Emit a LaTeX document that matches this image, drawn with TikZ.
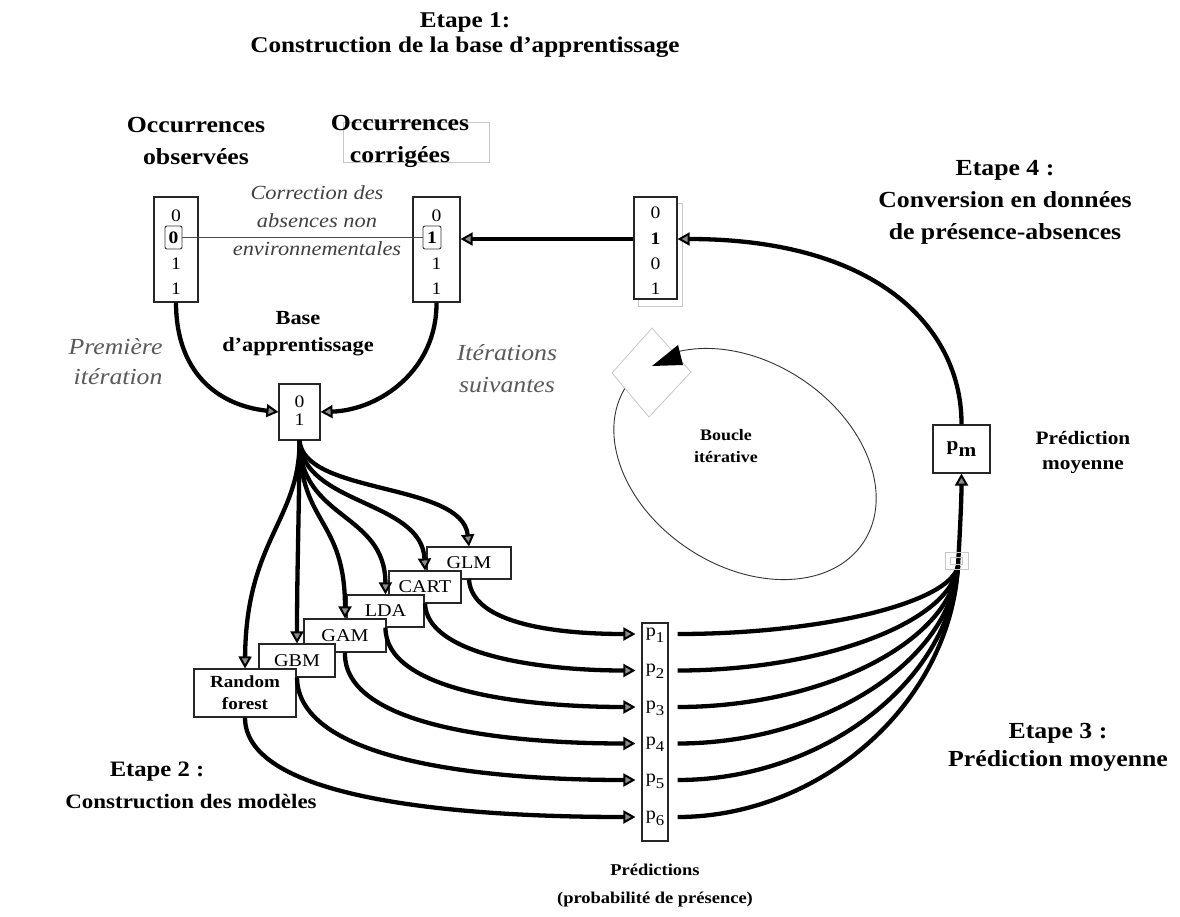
\documentclass[tikz,border=0pt]{standalone}
\usepackage{fontspec}
\setmainfont{Liberation Serif}[FakeStretch=1.12]
\usetikzlibrary{arrows.meta,calc}
\newcommand{\fsz}[2]{\fontsize{#1pt}{#2pt}\selectfont}
\newcommand{\lowsub}[1]{\raisebox{-0.32em}{\fsz{15}{15}#1}}
\begin{document}
\begin{tikzpicture}[x=1pt,y=-1pt,
  box/.style={draw=black!85, line width=1.1pt, fill=white, inner sep=0pt},
  digit/.style={inner sep=0pt, font=\fsz{17.5}{20}},
  mbox/.style={box, font=\fsz{18}{22}},
  label/.style={align=center, font=\bfseries\fsz{23}{32}},
  note/.style={align=center, font=\itshape\fsz{20}{28}, text=black!75},
  bigtip/.style={-{Triangle[length=12pt,width=13pt,line width=2pt,fill=black!45]}},
  flow/.style={line width=4.3pt, draw=black, bigtip},
  link/.style={line width=4.3pt, draw=black},
  faint/.style={draw=black!22, line width=0.8pt}
]
\useasboundingbox (0,0) rectangle (1180,916);

% ---------- titles ----------
\node[align=center, font=\bfseries\fsz{22.5}{25}] (t1) at (465,35)
  {Etape 1:\\Construction de la base d’apprentissage};
\node[label] (lobs) at (196,141) {Occurrences\\observées};
\draw[faint] (343,122) rectangle (489,162);
\node[label] (lcor) at (400,141) {Occurrences\\corrigées};
\node[label] (t4) at (1005,202) {Etape 4 :\\Conversion en données\\de présence-absences};
\node[label, font=\bfseries\fsz{23}{28}] (t3) at (1058,747) {Etape 3 :\\Prédiction moyenne};
\node[font=\bfseries\fsz{22}{27}] (t2a) at (157,772) {Etape 2 :};
\node[font=\bfseries\fsz{20.5}{27}] (t2b) at (191,801) {Construction des modèles};

% ---------- iterative loop ----------
\draw[black!80, line width=0.9pt, rotate around={-33.4:(745,464)}]
  (745,464) ellipse [x radius=142, y radius=102];
\draw[faint, fill=white] (652,328) -- (691,372) -- (649,417) -- (612,373) -- cycle;
\fill[black] (652,366) -- (678,345) -- (683,365) -- cycle;
\node[align=center, font=\bfseries\fsz{16}{22}] (loop) at (726,446) {Boucle\\itérative};

% ---------- occurrence columns ----------
\node[box, minimum width=44, minimum height=105] (obs) at (176,249.5) {};
\node[digit] (o1) at (176,216) {0};
\node[digit, draw=black!80, line width=0.9pt, rounded corners=2pt,
      minimum width=17, minimum height=23, font=\bfseries\fsz{17.5}{20}] (o2) at (173.5,237.5) {0};
\node[digit] (o3) at (176,264) {1};
\node[digit] (o4) at (176,289) {1};

\node[box, minimum width=47, minimum height=105] (cor) at (436.5,249.5) {};
\node[digit] (c1) at (436.5,216) {0};
\node[digit, draw=black!80, line width=0.9pt, rounded corners=2pt,
      minimum width=18, minimum height=23, font=\bfseries\fsz{17.5}{20}] (c2) at (432,237.5) {1};
\node[digit] (c3) at (436.5,264) {1};
\node[digit] (c4) at (436.5,289) {1};

\draw[black!70, line width=0.9pt] (o2.east) -- (c2.west);
\node[note] (corr) at (317,221) {Correction des\\absences non\\environnementales};

\draw[faint] (638,203) rectangle (682,306);
\node[box, minimum width=43, minimum height=102] (mid) at (655.5,248) {};
\node[digit] (m1) at (655.5,213) {0};
\node[digit, font=\bfseries\fsz{17.5}{20}] (m2) at (655.5,239) {1};
\node[digit] (m3) at (655.5,264) {0};
\node[digit] (m4) at (655.5,289) {1};

\draw[flow] (mid.west |- m2) -- (cor.east |- m2);

% ---------- training base ----------
\node[box, minimum width=41, minimum height=56] (base) at (299.5,412) {};
\node[digit] (b1) at (299.5,402) {0};
\node[digit] (b2) at (299.5,420) {1};
\node[align=center, font=\bfseries\fsz{20}{27}] (lbase) at (298,334) {Base\\d’apprentissage};

\draw[flow] (obs.south) .. controls (176,370) and (215,405) .. (base.west);
\draw[flow] (cor.south) .. controls (437,370) and (380,410) .. (base.east);
\node[anchor=east, align=right, font=\itshape\fsz{23}{30}, text=black!65] (first) at (166,362)
  {Première\\itération};
\node[align=center, font=\itshape\fsz{23}{32}, text=black!65] (next) at (507,369)
  {Itérations\\suivantes};

% ---------- models ----------
\node[mbox, minimum width=84, minimum height=32] (glm) at (469,563) {GLM};
\node[mbox, minimum width=72, minimum height=32] (cart) at (425,587) {CART};
\node[mbox, minimum width=77, minimum height=32] (lda) at (385.5,611) {LDA};
\node[mbox, minimum width=82, minimum height=33] (gam) at (345,635.5) {GAM};
\node[mbox, minimum width=76, minimum height=33] (gbm) at (297,660.5) {GBM};
\node[mbox, minimum width=102, minimum height=48, align=center,
      font=\bfseries\fsz{17}{22}] (rf) at (245,693) {Random\\forest};

\draw[flow] (base.south) .. controls (304,495) and (462,482) .. (glm.north);
\draw[flow] (base.south) .. controls (302,505) and (422,500) .. (cart.north);
\draw[flow] (base.south) .. controls (300,520) and (385,512) .. (lda.north);
\draw[flow] (base.south) .. controls (300,525) and (345,518) .. (gam.north);
\draw[flow] (base.south) .. controls (299,520) and (297,570) .. (gbm.north);
\draw[flow] (base.south) .. controls (300,520) and (246,540) .. (rf.north);

% ---------- predictions ----------
\node[box, minimum width=26, minimum height=218] (pred) at (655,732) {};
\foreach \i/\y in {1/634,2/670.5,3/707,4/743.5,5/780,6/817}{
  \node[inner sep=0pt, anchor=mid, font=\fsz{18}{22}] (p\i) at (655,\y) {p\lowsub{\i}};
}
\node[align=center, font=\bfseries\fsz{16.5}{28}] (lpred) at (655,886)
  {Prédictions\\(probabilité de présence)};

\draw[flow, shorten >=6pt] (glm.south) .. controls (472,625) and (560,634) .. (pred.west |- p1.mid);
\draw[flow, shorten >=6pt] (cart.south) .. controls (427,655) and (540,670.5) .. (pred.west |- p2.mid);
\draw[flow, shorten >=6pt] (lda.south) .. controls (385,690) and (520,707) .. (pred.west |- p3.mid);
\draw[flow, shorten >=6pt] (gam.south) .. controls (343,725) and (500,743.5) .. (pred.west |- p4.mid);
\draw[flow, shorten >=6pt] (gbm.south) .. controls (298,760) and (480,780) .. (pred.west |- p5.mid);
\draw[flow, shorten >=6pt] (rf.south) .. controls (245,800) and (460,817) .. (pred.west |- p6.mid);

% ---------- mean prediction ----------
\node[box, minimum width=57, minimum height=48, font=\bfseries\fsz{19}{22}] (pm) at (961.5,449)
  {p\raisebox{-0.3em}{m}};
\node[align=center, font=\bfseries\fsz{19}{25}] (lpm) at (1083,452) {Prédiction\\moyenne};
\coordinate (hub) at (958,566);

\foreach \i/\y in {1/634,2/670.5,3/707,4/743.5,5/780,6/817}{
  \pgfmathsetmacro{\cy}{566+0.55*(\y-566)}
  \draw[link, shorten <=9pt] (pred.east |- p\i.mid) .. controls (820,\y) and (950,\cy) .. (hub);
}
\draw[flow] (hub) .. controls (960,530) and (961.5,500) .. (pm.south);
\draw[faint] (945,552) rectangle (968,569);
\draw[faint] (950,557) rectangle (962,564);

\draw[flow] (pm.north) .. controls (962,330) and (880,239) .. (mid.east |- m2);
\end{tikzpicture}
\end{document}
